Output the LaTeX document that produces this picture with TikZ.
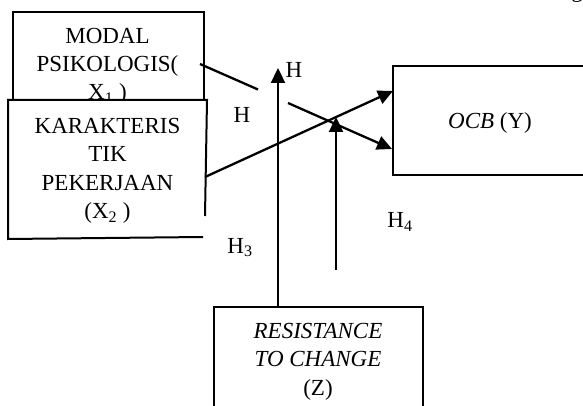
\documentclass[tikz,border=0pt]{standalone}
\usepackage{fontspec}
\setmainfont{Liberation Serif}
\usetikzlibrary{arrows.meta}
\tikzset{
  ln/.style={line width=2.3pt},
  arr/.style={line width=2.3pt, -{Triangle[length=15pt,width=14pt]}},
  box/.style={draw, line width=2pt, rectangle, inner sep=0pt, anchor=north west},
  txt/.style={anchor=base, inner sep=0pt, font=\fontsize{23}{28}\selectfont},
}
\begin{document}
\begin{tikzpicture}[x=1pt,y=-1pt]
\useasboundingbox (0,0) rectangle (583,406);
\clip (0,0) rectangle (583,406);
\fill[white] (0,0) rectangle (583,406);
% cut-off glyph at top right
\node[txt] (gfrag) at (577,-2) {g};
% box X1
\node[box, minimum width=191pt, minimum height=107pt] (b1) at (12,11) {};
\node[txt] (t11) at (107.5,44) {MODAL};
\node[txt] (t12) at (107.5,72) {PSIKOLOGIS(};
\node[txt] (t13) at (107.5,100) {X\textsubscript{1}~)};
% box X2
\node[box, draw=none, fill=white, minimum width=197pt, minimum height=137pt] (b2) at (8,100) {};
\draw[line width=2pt] (205,216) -- (b2.north east) -- (b2.north west) -- (b2.south west) -- (203,237);
\node[txt] (t21) at (107.5,134) {KARAKTERIS};
\node[txt] (t22) at (107.5,162) {TIK};
\node[txt] (t23) at (107.5,190) {PEKERJAAN};
\node[txt] (t24) at (107.5,218.5) {(X\textsubscript{2}~)};
% box Y
\node[box, minimum width=300pt, minimum height=109pt] (b3) at (392,65) {};
\node[txt] (t3) at (490,128.5) {\textit{OCB} (Y)};
% box Z
\node[box, minimum width=209pt, minimum height=140pt] (b4) at (213,306) {};
\node[txt] (t41) at (318,338) {\textit{RESISTANCE}};
\node[txt] (t42) at (318,366) {\textit{TO CHANGE}};
\node[txt] (t43) at (318,395) {(Z)};
% connector coordinates
\coordinate (a1s) at (200,64);
\coordinate (a1g1) at (258,89.5);
\coordinate (a1g2) at (288,103);
\coordinate (a1t) at (392,149);
\coordinate (a2s) at (205,177);
\coordinate (a2t) at (393,91);
\coordinate (v1t) at (278,68);
\coordinate (v2s) at (336,270);
\coordinate (v2t) at (336,117);
% connectors
\draw[ln] (a1s) -- (a1g1);
\draw[arr] (a1g2) -- (a1t);
\draw[arr] (a2s) -- (a2t);
\draw[arr] (b4.north -| v1t) -- (v1t);
\draw[arr] (v2s) -- (v2t);
% labels
\node[txt] (h1) at (294,77.5) {H};
\node[txt] (h2) at (242,123) {H};
\node[txt] (h3) at (240,253) {H\textsubscript{3}};
\node[txt] (h4) at (400,227.5) {H\textsubscript{4}};
\end{tikzpicture}
\end{document}
